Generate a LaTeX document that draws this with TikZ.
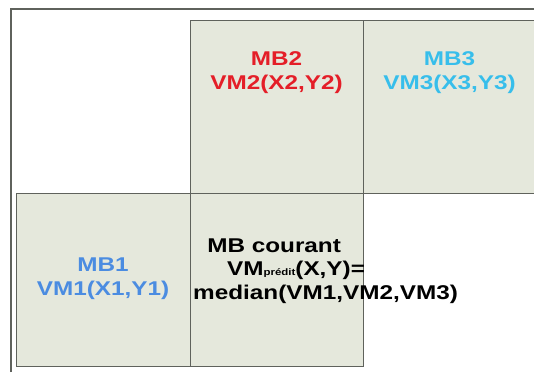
\documentclass[tikz,border=0pt]{standalone}
\usepackage{fontspec}
\setmainfont[FakeStretch=1.22]{Liberation Sans}
\usetikzlibrary{positioning}

\definecolor{fondmb}{RGB}{229,232,220}
\definecolor{traitmb}{RGB}{95,98,92}
\definecolor{rougemb}{RGB}{228,30,40}
\definecolor{cyanmb}{RGB}{55,190,235}
\definecolor{bleumb}{RGB}{75,140,225}

\tikzset{
  bloc/.style={draw=traitmb, line width=0.8pt, fill=fondmb, minimum width=5.19cm,
    minimum height=5.19cm, inner sep=0pt, outer sep=0pt},
  texte/.style={inner sep=0pt, align=center, font=\fontsize{17}{20}\selectfont\bfseries}
}

\begin{document}
\begin{tikzpicture}[node distance=0pt]
        \useasboundingbox (0,0) rectangle (16.02,11.16);
        % cadre
        \draw[traitmb, line width=1.3pt] (0.33,0) |- (16.2,10.89);
        % macroblocs
        \node[bloc] (mb2) at (8.295,7.965) {};
        \node[bloc, right=of mb2] (mb3) {};
        \node[bloc, below=of mb2] (cour) {};
        \node[bloc, left=of cour, minimum width=5.22cm] (mb1) {};
        % etiquettes
        \node[texte, text=rougemb] (t2) at ([yshift=1.02cm]mb2.center) {MB2\\VM2(X2,Y2)};
        \node[texte, text=cyanmb] (t3) at ([yshift=1.02cm]mb3.center) {MB3\\VM3(X3,Y3)};
        \node[texte, text=bleumb] (t1) at ([yshift=0.02cm]mb1.center) {MB1\\VM1(X1,Y1)};
        \node[texte, align=left, anchor=west] (tc) at ([xshift=0.09cm, yshift=0.26cm]cour.west)
          {\hspace*{12pt}MB courant\\
           \hspace*{29pt}VM{\fontsize{8}{8}\selectfont prédit}(X,Y)=\\
           median(VM1,VM2,VM3)};
    \end{tikzpicture}
\end{document}
